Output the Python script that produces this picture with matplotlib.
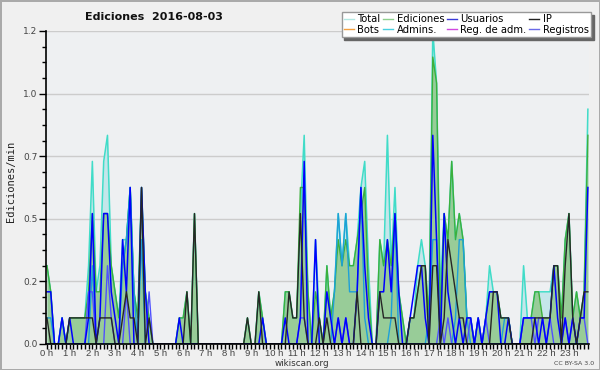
import numpy as np
import matplotlib
matplotlib.use("Agg")
from matplotlib import pyplot as plt
from matplotlib.lines import Line2D
from matplotlib.ticker import MultipleLocator, FixedLocator

# ediciones por minuto, un valor cada 10 minutos (144 puntos)
total = [
    .3, .2, 0, 0, .1, 0,
    .1, .1, .1, .1, .1, .3,
    .7, .2, .3, .7, .8, .3,
    .2, .1, .4, .4, .6, .2,
    .1, .6, .2, .1, 0, 0,
    0, 0, 0, 0, 0, .1,
    .1, .2, 0, .5, 0, 0,
    0, 0, 0, 0, 0, 0,
    0, 0, 0, 0, 0, .1,
    0, 0, .2, .1, 0, 0,
    0, 0, 0, .2, .2, .1,
    .1, .5, .8, .2, 0, .4,
    .1, 0, .3, .1, .2, .5,
    .3, .5, .3, .3, .4, .6,
    .7, .3, 0, 0, .4, .3,
    .8, .3, .6, .2, .1, 0,
    .1, .1, .3, .4, .3, .1,
    1.2, 1.0, .2, .5, .4, .7,
    .4, .5, .4, .1, .1, 0,
    .1, 0, .1, .3, .2, .2,
    .1, .1, .1, 0, 0, 0,
    .3, .1, .1, .2, .2, .2,
    .2, .2, .3, .3, .1, .4,
    .5, .1, .2, .1, .2, .9]
ediciones = [
    .3, .2, 0, 0, .1, 0,
    .1, .1, .1, .1, .1, .2,
    .5, .2, .2, .5, .5, .3,
    .2, .1, .3, .4, .6, .2,
    .1, .6, .2, .1, 0, 0,
    0, 0, 0, 0, 0, .1,
    .1, .2, 0, .5, 0, 0,
    0, 0, 0, 0, 0, 0,
    0, 0, 0, 0, 0, .1,
    0, 0, .2, .1, 0, 0,
    0, 0, 0, .2, .2, .1,
    .1, .6, .6, .2, 0, .2,
    .1, 0, .3, .1, .2, .4,
    .3, .4, .3, .3, .4, .5,
    .6, .2, 0, 0, .4, .3,
    .4, .3, .5, .2, .1, 0,
    .1, .1, .2, .3, .3, .1,
    1.1, 1.0, .1, .5, .4, .7,
    .4, .5, .4, .1, .1, 0,
    .1, 0, .1, .2, .2, .2,
    .1, .1, .1, 0, 0, 0,
    .1, .1, .1, .2, .2, .1,
    .1, .1, .3, .3, .1, .4,
    .5, .1, .2, .1, .2, .8]
usuarios = [
    .2, .2, 0, 0, .1, 0,
    .1, 0, 0, 0, 0, .1,
    .5, 0, .1, .5, .5, .2,
    .1, 0, .4, .2, .6, 0,
    0, .6, .2, 0, 0, 0,
    0, 0, 0, 0, 0, .1,
    0, 0, 0, 0, 0, 0,
    0, 0, 0, 0, 0, 0,
    0, 0, 0, 0, 0, 0,
    0, 0, 0, .1, 0, 0,
    0, 0, 0, .1, 0, 0,
    0, .1, .7, 0, 0, .4,
    0, 0, .2, .1, 0, .1,
    0, .1, 0, 0, .2, .6,
    .3, .1, 0, 0, .2, .2,
    .4, .2, .5, .2, 0, 0,
    .1, .2, .3, .3, .1, 0,
    .8, .4, 0, .5, .2, .1,
    0, .1, 0, .1, .1, 0,
    .1, 0, .1, .2, .2, .2,
    0, 0, .1, 0, 0, 0,
    .1, .1, .1, .1, 0, .1,
    0, .1, .3, .1, 0, .1,
    0, .1, 0, .1, .1, .6]
ip = [
    .1, 0, 0, 0, 0, 0,
    .1, .1, .1, .1, .1, .1,
    .1, 0, .1, .1, .1, .1,
    0, 0, .1, .2, .1, .1,
    0, .6, 0, .1, 0, 0,
    0, 0, 0, 0, 0, 0,
    0, .2, 0, .5, 0, 0,
    0, 0, 0, 0, 0, 0,
    0, 0, 0, 0, 0, .1,
    0, 0, .2, 0, 0, 0,
    0, 0, 0, 0, .2, .1,
    .1, .5, .1, 0, 0, 0,
    .1, 0, .1, 0, 0, 0,
    0, 0, 0, 0, .2, 0,
    0, 0, 0, 0, .2, .1,
    .1, .1, .1, 0, 0, 0,
    .1, .1, .2, .3, .3, 0,
    .3, .3, 0, .1, .4, .3,
    .2, .1, .1, 0, 0, 0,
    0, 0, 0, 0, .2, .2,
    .1, .1, .1, 0, 0, 0,
    0, 0, 0, .1, .1, .1,
    .1, .1, .3, .3, 0, .3,
    .5, .1, 0, .1, .2, .2]
admins = [
    .1, .1, 0, 0, .1, 0,
    0, 0, 0, 0, 0, 0,
    .3, 0, 0, 0, 0, 0,
    0, 0, .3, .4, .6, .2,
    0, .4, 0, 0, 0, 0,
    0, 0, 0, 0, 0, 0,
    0, 0, 0, 0, 0, 0,
    0, 0, 0, 0, 0, 0,
    0, 0, 0, 0, 0, 0,
    0, 0, 0, 0, 0, 0,
    0, 0, 0, 0, 0, 0,
    0, 0, 0, 0, 0, 0,
    0, 0, 0, 0, .2, .5,
    .3, .5, .2, .2, .2, .6,
    .1, 0, 0, 0, 0, 0,
    0, .1, .5, 0, 0, 0,
    0, 0, 0, 0, 0, .1,
    .4, .4, 0, 0, 0, 0,
    .1, .4, .4, .1, 0, 0,
    0, 0, 0, 0, 0, 0,
    0, .1, .1, 0, 0, 0,
    0, 0, 0, 0, 0, 0,
    0, 0, 0, 0, 0, 0,
    0, 0, 0, 0, 0, 0]
registros = [
    0, 0, 0, 0, 0, 0,
    0, 0, 0, 0, 0, .2,
    .2, 0, 0, 0, .3, .1,
    0, 0, 0, .2, 0, 0,
    0, 0, 0, .2, 0, 0,
    0, 0, 0, 0, 0, 0,
    0, 0, 0, 0, 0, 0,
    0, 0, 0, 0, 0, 0,
    0, 0, 0, 0, 0, 0,
    0, 0, 0, 0, 0, 0,
    0, 0, 0, 0, 0, 0,
    0, .1, .1, 0, 0, 0,
    0, 0, 0, 0, 0, .1,
    0, .1, 0, 0, 0, 0,
    0, 0, 0, 0, 0, 0,
    0, 0, 0, 0, 0, 0,
    0, 0, 0, 0, 0, 0,
    0, 0, .1, 0, .1, 0,
    0, 0, 0, 0, .1, 0,
    .1, 0, .1, 0, 0, 0,
    0, 0, 0, 0, 0, 0,
    .1, .1, .1, 0, .1, .1,
    0, .1, 0, 0, 0, .1,
    0, .1, 0, .1, .1, 0]

hour_labels = ["%d h" % h for h in range(24)]
legend_names = ["Total", "Ediciones", "Usuarios", "IP",
                "Bots", "Admins.", "Reg. de adm.", "Registros"]
legend_colors = ["#b2e8e2", "#8ed08e", "#3a3ad8", "#222222",
                 "#f4a040", "#48d0e0", "#d048e0", "#6a6ae8"]

x = np.arange(len(total))

fig = plt.figure(figsize=(6, 3.7), dpi=100, facecolor="#f0f0f0",
                 edgecolor="#aaaaaa", linewidth=2)
ax = fig.add_axes([0.0767, 0.0703, 0.9050, 0.8460])
ax.set_facecolor("#eef0f2")

ax.fill_between(x, total, color="#c4e6ea", lw=0)
ax.fill_between(x, ediciones, color="#98cc98", lw=0)
ax.plot(x, total, color="#40dcc8", lw=1.1)
ax.plot(x, ediciones, color="#3cb03c", lw=1.0)
ax.plot(x, admins, color="#1ea0d8", lw=1.0)
ax.plot(x, registros, color="#5050ff", lw=1.0)
ax.plot(x, usuarios, color="#0000ff", lw=1.1)
ax.plot(x, ip, color="#262626", lw=1.0)

ax.set_xlim(-0.25, 143.3)
ax.set_ylim(0, 1.2)
yt = np.linspace(0, 1.2, 6)
ax.yaxis.set_major_locator(FixedLocator(yt))
ax.set_yticklabels(["%.1f" % v for v in yt])
ax.yaxis.set_minor_locator(MultipleLocator(0.06))
ax.set_xticks(np.arange(0, 144, 6))
ax.set_xticklabels(hour_labels, family="Liberation Sans")
ax.xaxis.set_minor_locator(MultipleLocator(1))
ax.grid(axis="y", which="major", color="#cccccc", lw=1)
ax.set_axisbelow(True)
for s in ["top", "right"]:
    ax.spines[s].set_visible(False)
ax.spines["left"].set_linewidth(1.2)
ax.spines["bottom"].set_linewidth(1.2)
ax.tick_params(axis="y", which="major", length=5, width=1, labelsize=6.5,
               labelcolor="#444444", pad=1)
ax.tick_params(axis="y", which="minor", length=3, width=1)
ax.tick_params(axis="x", which="both", length=3.5, width=1, labelsize=6.8,
               labelcolor="#444444", pad=0)

fig.text(0.256, 0.955, "Ediciones  2016-08-03", ha="center", va="center",
         fontsize=8, fontweight="bold", color="#111111")
fig.text(0.018, 0.51, "Ediciones/min", rotation=90, ha="center", va="center",
         fontsize=7.5, family="DejaVu Sans Mono", color="#222222")
fig.text(0.503, 0.0165, "wikiscan.org", ha="center", va="center",
         fontsize=6.3, color="#333333")
fig.text(0.957, 0.018, "CC BY-SA 3.0", ha="center", va="center",
         fontsize=4.5, color="#444444")

handles = [Line2D([], [], color=c, lw=1) for c in legend_colors]
order = [0, 4, 1, 5, 2, 6, 3, 7]
leg = fig.legend([handles[k] for k in order], [legend_names[k] for k in order],
                 ncol=4, loc="upper right", bbox_to_anchor=(0.985, 0.968),
                 fontsize=7.2, frameon=True, fancybox=False,
                 shadow={"color": "#666666", "alpha": 1},
                 handlelength=1.0, handletextpad=0.35, columnspacing=0.25,
                 labelspacing=0.05, borderpad=0.25, borderaxespad=0)
leg.get_frame().set_edgecolor("#999999")
leg.get_frame().set_facecolor("white")
leg.get_frame().set_alpha(1)
leg.set_zorder(10)

fig.savefig("out.png", dpi=100, facecolor=fig.get_facecolor(),
            edgecolor=fig.get_edgecolor())
